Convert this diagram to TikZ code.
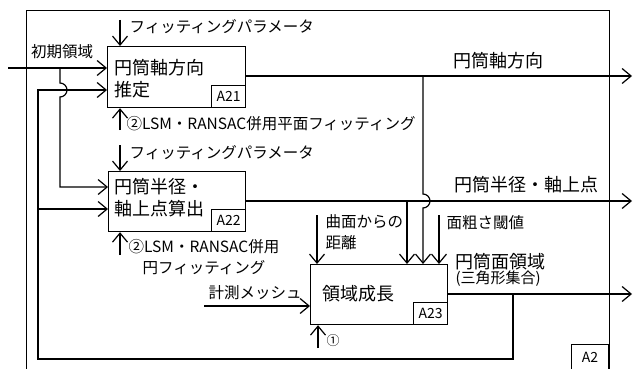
\documentclass[tikz,border=0pt]{standalone}
\usepackage{fontspec}
\setmainfont{Noto Sans CJK JP}
\usetikzlibrary{arrows.meta}
\begin{document}
\begin{tikzpicture}[x=1pt,y=-1pt,line width=1.2pt,
  box/.style={draw,inner sep=0pt,fill=white},
  tag/.style={draw,inner sep=0pt,font=\fontsize{14}{16}\selectfont},
  arr/.style={-{Straight Barb[length=9pt,width=15pt]}},
  txt/.style={inner sep=0pt,font=\fontsize{15.5}{21}\selectfont},
  big/.style={inner sep=0pt,font=\fontsize{18}{22}\selectfont},
  sml/.style={inner sep=0pt,font=\fontsize{15}{16}\selectfont}]
\useasboundingbox (0,0) rectangle (640,369);
% outer frame
\node[draw,inner sep=0pt,minimum width=583pt,minimum height=372pt,anchor=north west] (a2) at (26,10) {};
\node[tag,minimum width=37pt,minimum height=25pt,anchor=south east] (a2t) at (609,370) {A2};
% boxes
\node[box,minimum width=138pt,minimum height=61pt,anchor=north west] (a21) at (107,46) {};
\node[box,minimum width=137pt,minimum height=60pt,anchor=north west] (a22) at (108,171) {};
\node[box,minimum width=137pt,minimum height=60pt,anchor=north west] (a23) at (310,264) {};
\node[tag,minimum width=34pt,minimum height=22pt,anchor=south east] (a21t) at (a21.south east) {A21};
\node[tag,minimum width=34pt,minimum height=22pt,anchor=south east] (a22t) at (a22.south east) {A22};
\node[tag,minimum width=34pt,minimum height=22pt,anchor=south east] (a23t) at (a23.south east) {A23};
\node[big,anchor=west,align=left] (a21x) at (114,79) {円筒軸方向\\推定};
\node[big,anchor=west,align=left] (a22x) at (114,198) {円筒半径・\\軸上点算出};
\node[big,anchor=west] (a23x) at (322,294) {領域成長};
% coordinates
\coordinate (in1) at (8,68);
\coordinate (j1) at (60,68);
\coordinate (j1b) at (60,187);
\coordinate (fb1) at (38,90);
\coordinate (fb2) at (38,209);
\coordinate (fb3) at (38,359);
\coordinate (fb4) at (513,359);
\coordinate (o3j) at (513,294);
\coordinate (o1s) at (245,76);
\coordinate (o1e) at (632,76);
\coordinate (b1) at (423,76);
\coordinate (o2s) at (245,201);
\coordinate (o2e) at (632,201);
\coordinate (b2) at (407,201);
\coordinate (o3s) at (447,294);
\coordinate (o3e) at (632,294);
\coordinate (c1) at (120,20);
\coordinate (m1) at (120,130);
\coordinate (c2) at (120,145);
\coordinate (m2) at (120,255);
\coordinate (k1) at (317,215);
\coordinate (k2) at (439,215);
\coordinate (in3) at (204,306);
\coordinate (m3) at (318,348);
% connectors
\draw[arr] (in1) -- (in1 -| a21.west);
\draw[arr] (j1) -- (60,83) arc[start angle=90,end angle=-90,radius=7pt] -- (j1b) -- (j1b -| a22.west);
\draw[arr] (o3j) -- (fb4) -- (fb3) -- (fb1) -- (fb1 -| a21.west);
\draw[arr] (fb2) -- (fb2 -| a22.west);
\draw[arr] (o1s) -- (o1e);
\draw[arr] (o2s) -- (o2e);
\draw[arr] (o3s) -- (o3e);
\draw[arr] (b1) -- (423,194) arc[start angle=90,end angle=-90,radius=7pt] -- (b1 |- a23.north);
\draw[arr] (b2) -- (b2 |- a23.north);
\draw[arr] (k1) -- (k1 |- a23.north);
\draw[arr] (k2) -- (k2 |- a23.north);
\draw[arr] (in3) -- (in3 -| a23.west);
\draw[arr] (m3) -- (m3 |- a23.south);
\draw[arr] (c1) -- (c1 |- a21.north);
\draw[arr] (m1) -- (m1 |- a21.south);
\draw[arr] (c2) -- (c2 |- a22.north);
\draw[arr] (m2) -- (m2 |- a22.south);
% labels
\node[txt] (l1) at (62,52) {初期領域};
\node[txt,anchor=west] (l2) at (129,27) {フィッティングパラメータ};
\node[txt,anchor=west] (l3) at (126,124) {②LSM・RANSAC併用平面フィッティング};
\node[txt,anchor=west] (l4) at (129,153) {フィッティングパラメータ};
\node[txt,align=center] (l5) at (204,257) {②LSM・RANSAC併用\\円フィッティング};
\node[big] (l6) at (498,61) {円筒軸方向};
\node[big] (l7) at (526,185) {円筒半径・軸上点};
\node[txt,anchor=west,align=left] (l8) at (325,232.5) {曲面からの\\距離};
\node[txt,anchor=west] (l9) at (446,223) {面粗さ閾値};
\node[big,anchor=west] (l10) at (455,262) {円筒面領域};
\node[sml,anchor=west] (l11) at (455,279) {(三角形集合)};
\node[txt] (l12) at (255,293) {計測メッシュ};
\node[inner sep=0pt,font=\fontsize{13}{15}\selectfont] (l13) at (333,341) {①};
\end{tikzpicture}
\end{document}
